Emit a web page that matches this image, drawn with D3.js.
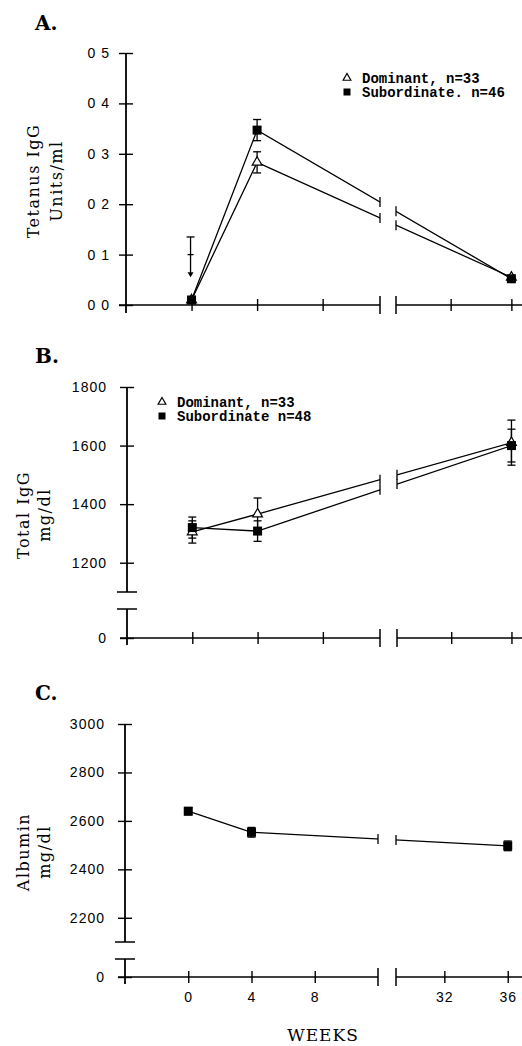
<!DOCTYPE html>
<html>
<head>
<meta charset="utf-8">
<script src="https://cdn.jsdelivr.net/npm/d3@7"></script>
<style>
body{margin:0;background:#fff}
.tick text{font-family:"Liberation Sans",Arial,sans-serif;font-size:14px;letter-spacing:1px}
.ttl{font-family:"DejaVu Serif",serif;font-size:16px;letter-spacing:1.5px}
.lab{font-family:"DejaVu Serif",serif;font-weight:bold;font-size:20px}
.leg{font-family:"Liberation Mono",monospace;font-weight:bold;font-size:14px}
.wk{font-family:"DejaVu Serif",serif;font-size:17px;letter-spacing:1px}
</style>
</head>
<body>
<svg id="fig" width="522" height="1046"></svg>
<script>
// sampling weeks
const weeks = [0, 4, 36];
const weekTicks = [0, 4, 8, 32, 36];

// A. tetanus IgG, units/ml
const tetDom = [0.01, 0.283, 0.055];
const tetDomErr = [0, 0.021, 0.004];
const tetSub = [0.01, 0.347, 0.052];
const tetSubErr = [0, 0.021, 0.005];
const tetTicks = [0, 0.1, 0.2, 0.3, 0.4, 0.5];
const tetNote = {week: 0, top: 0.135, mid: 0.1, tip: 0.055};
const legendA = ["Dominant, n=33", "Subordinate. n=46"];

// B. total IgG, mg/dl
const igDom = [1305, 1366, 1610];
const igDomErr = [38, 55, 77];
const igSub = [1320, 1308, 1600];
const igSubErr = [36, 35, 56];
const igTicks = [1200, 1400, 1600, 1800];
const legendB = ["Dominant, n=33", "Subordinate  n=48"];

// C. albumin, mg/dl
const alb = [2640, 2553, 2497];
const albErr = [15, 20, 20];
const albTicks = [2200, 2400, 2600, 2800, 3000];

const svg = d3.select("#fig");

function drawPanel(p, idx){
    let g = svg.append("g");

    let x = d3.scaleLinear().domain(p.xDomain).range(p.xRange);
    let y = d3.scaleLinear().domain(p.yDomain).range(p.yRange);
    let x0 = x(p.xDomain[0]);
    let breakL = x(p.xDomain[1]);
    let breakR = x(p.xDomain[2]);
    let xEnd = x(p.xDomain[3]);

    // zero line: either on the main scale or on a lower stub
    let yLow = p.low ? d3.scaleLinear().domain([0, 1]).range(p.low) : y;
    let zeroY = yLow(0);

    // panel letter
    g.append("text").attr("class", "lab")
        .attr("x", 35).attr("y", p.labelY)
        .text(p.label);

    // y axis title
    p.title.forEach(function(t, i){
        g.append("text").attr("class", "ttl")
            .attr("text-anchor", "middle")
            .attr("transform", `translate(${p.titleX[i]},${p.titleY}) rotate(-90)`)
            .text(t);
    });

    // y axis
    let yAx = g.append("g")
        .attr("transform", `translate(${x0},0)`)
        .call(d3.axisLeft(y).tickValues(p.yTicks).tickSize(7).tickPadding(p.pad).tickFormat(p.fmt));
    yAx.select(".domain").remove();
    yAx.selectAll(".tick line").attr("x1", 7).attr("stroke-width", 1.4);

    if (p.low) {
        let lowAx = g.append("g")
            .attr("transform", `translate(${x0},0)`)
            .call(d3.axisLeft(yLow).tickValues([0]).tickSize(7).tickPadding(p.pad).tickFormat(d3.format("d")));
        lowAx.select(".domain").remove();
        lowAx.selectAll(".tick line").attr("x1", 7).attr("stroke-width", 1.4);

        g.append("line").attr("x1", x0).attr("x2", x0)
            .attr("y1", p.yRange[1]).attr("y2", p.yRange[0])
            .attr("stroke", "#000").attr("stroke-width", 1.8);
        g.append("line").attr("x1", x0 - 10).attr("x2", x0 + 10)
            .attr("y1", p.yRange[0]).attr("y2", p.yRange[0])
            .attr("stroke", "#000").attr("stroke-width", 1.5);
        g.append("line").attr("x1", x0 - 10).attr("x2", x0 + 10)
            .attr("y1", p.low[1]).attr("y2", p.low[1])
            .attr("stroke", "#000").attr("stroke-width", 1.5);
        g.append("line").attr("x1", x0).attr("x2", x0)
            .attr("y1", p.low[1]).attr("y2", zeroY + 7)
            .attr("stroke", "#000").attr("stroke-width", 1.8);
    } else {
        g.append("line").attr("x1", x0).attr("x2", x0)
            .attr("y1", p.yRange[1]).attr("y2", zeroY + 8)
            .attr("stroke", "#000").attr("stroke-width", 1.8);
    }

    // x axis
    let xAx = g.append("g")
        .attr("transform", `translate(0,${zeroY})`)
        .call(d3.axisBottom(x).tickValues(weekTicks).tickSize(6).tickPadding(9)
            .tickFormat(p.showWeeks ? d3.format("d") : () => ""));
    xAx.select(".domain").remove();
    xAx.selectAll(".tick line").attr("y1", -6).attr("stroke-width", 1.4);

    g.append("line").attr("x1", x0 - 7).attr("x2", breakL)
        .attr("y1", zeroY).attr("y2", zeroY)
        .attr("stroke", "#000").attr("stroke-width", 1.5);
    g.append("line").attr("x1", breakR).attr("x2", xEnd)
        .attr("y1", zeroY).attr("y2", zeroY)
        .attr("stroke", "#000").attr("stroke-width", 1.5);
    [breakL, breakR].forEach(function(bx){
        g.append("line").attr("x1", bx).attr("x2", bx)
            .attr("y1", zeroY - 9).attr("y2", zeroY + 9)
            .attr("stroke", "#000").attr("stroke-width", 1.5);
    });

    if (p.showWeeks) {
        g.append("text").attr("class", "wk")
            .attr("x", 323).attr("y", 1041)
            .attr("text-anchor", "middle")
            .text("WEEKS");
    }

    // clip the data lines at the axis break
    let clipId = "gap" + idx;
    let clip = svg.append("clipPath").attr("id", clipId);
    clip.append("rect").attr("x", 0).attr("y", 0).attr("width", breakL).attr("height", 1046);
    clip.append("rect").attr("x", breakR).attr("y", 0).attr("width", 522 - breakR).attr("height", 1046);

    let line = d3.line()
        .x(function(d, i){ return x(weeks[i]); })
        .y(function(d){ return y(d); });

    p.series.forEach(function(s){
        g.append("path")
            .attr("d", line(s.vals))
            .attr("fill", "none")
            .attr("stroke", "#000")
            .attr("stroke-width", 1.3)
            .attr("clip-path", `url(#${clipId})`);

        // little marks where the line is cut
        let ax = x(weeks[1]), ay = y(s.vals[1]);
        let bx = x(weeks[2]), by = y(s.vals[2]);
        [breakL, breakR].forEach(function(cx){
            let cy = ay + (cx - ax) / (bx - ax) * (by - ay);
            g.append("line").attr("x1", cx).attr("x2", cx)
                .attr("y1", cy - 5).attr("y2", cy + 5)
                .attr("stroke", "#000").attr("stroke-width", 1.3);
        });
    });

    // error bars
    p.series.forEach(function(s){
        let eb = g.append("g").selectAll("g")
            .data(s.vals.map(function(v, i){ return {w: weeks[i], v: v, e: s.err[i]}; }).filter(d => d.e > 0))
            .enter().append("g")
            .attr("stroke", "#000").attr("stroke-width", 1.3);
        eb.append("line")
            .attr("x1", d => x(d.w)).attr("x2", d => x(d.w))
            .attr("y1", d => y(d.v - d.e)).attr("y2", d => y(d.v + d.e));
        eb.append("line")
            .attr("x1", d => x(d.w) - 4).attr("x2", d => x(d.w) + 4)
            .attr("y1", d => y(d.v + d.e)).attr("y2", d => y(d.v + d.e));
        eb.append("line")
            .attr("x1", d => x(d.w) - 4).attr("x2", d => x(d.w) + 4)
            .attr("y1", d => y(d.v - d.e)).attr("y2", d => y(d.v - d.e));
    });

    // markers: triangles first, squares on top
    p.series.slice().sort((a, b) => a.marker === "tri" ? -1 : 1).forEach(function(s){
        let pts = g.append("g").selectAll("path")
            .data(s.vals.map(function(v, i){ return {w: weeks[i], v: v}; }))
            .enter();
        if (s.marker === "tri") {
            pts.append("path")
                .attr("d", d3.symbol(d3.symbolTriangle, 42))
                .attr("transform", d => `translate(${x(d.w)},${y(d.v)})`)
                .attr("fill", "#fff").attr("stroke", "#000").attr("stroke-width", 1.2);
        } else {
            pts.append("rect")
                .attr("x", d => x(d.w) - 4.5).attr("y", d => y(d.v) - 4.5)
                .attr("width", 9).attr("height", 9)
                .attr("fill", "#000");
        }
    });

    // legend
    if (p.legend) {
        p.legend.names.forEach(function(name, i){
            let ly = p.legend.y + i * 14;
            if (i === 0) {
                g.append("path")
                    .attr("d", d3.symbol(d3.symbolTriangle, 26))
                    .attr("transform", `translate(${p.legend.x},${ly})`)
                    .attr("fill", "#fff").attr("stroke", "#000").attr("stroke-width", 1.2);
            } else {
                g.append("rect")
                    .attr("x", p.legend.x - 3.5).attr("y", ly - 3.5)
                    .attr("width", 7).attr("height", 7).attr("fill", "#000");
            }
            g.append("text").attr("class", "leg")
                .attr("x", p.legend.x + 15).attr("y", ly + 4.5)
                .text(name);
        });
    }

    // arrow note in panel A
    if (p.note) {
        let nx = x(p.note.week) - 1;
        let ng = g.append("g").attr("stroke", "#000").attr("stroke-width", 1.3);
        ng.append("line").attr("x1", nx).attr("x2", nx)
            .attr("y1", y(p.note.top)).attr("y2", y(p.note.tip) - 3);
        ng.append("line").attr("x1", nx - 4).attr("x2", nx + 4)
            .attr("y1", y(p.note.top)).attr("y2", y(p.note.top));
        ng.append("line").attr("x1", nx - 3).attr("x2", nx + 3)
            .attr("y1", y(p.note.mid)).attr("y2", y(p.note.mid));
        g.append("path")
            .attr("d", `M${nx - 3},${y(p.note.tip) - 5}L${nx + 3},${y(p.note.tip) - 5}L${nx},${y(p.note.tip)}Z`)
            .attr("fill", "#000");
    }
}

const panels = [
    {
        label: "A.", labelY: 30,
        xDomain: [-4, 11.5, 28.4, 36.7], xRange: [126, 380, 396, 522],
        yDomain: [0, 0.5], yRange: [305, 53],
        yTicks: tetTicks, pad: 9,
        fmt: d => d3.format(".1f")(d).replace(".", " "),
        title: ["Tetanus IgG", "Units/ml"], titleX: [39, 62], titleY: 181,
        series: [
            {vals: tetDom, err: tetDomErr, marker: "tri"},
            {vals: tetSub, err: tetSubErr, marker: "sq"}
        ],
        legend: {x: 347, y: 78, names: legendA},
        note: tetNote
    },
    {
        label: "B.", labelY: 363,
        xDomain: [-4, 11.5, 28.4, 36.7], xRange: [127, 380, 397, 522],
        yDomain: [1100, 1800], yRange: [592, 387], low: [638, 609],
        yTicks: igTicks, pad: 13,
        fmt: d3.format("d"),
        title: ["Total IgG", "mg/dl"], titleX: [29, 50], titleY: 515,
        series: [
            {vals: igDom, err: igDomErr, marker: "tri"},
            {vals: igSub, err: igSubErr, marker: "sq"}
        ],
        legend: {x: 162, y: 402, names: legendB}
    },
    {
        label: "C.", labelY: 700,
        xDomain: [-4, 12, 28.95, 36.9], xRange: [125, 378, 396, 522],
        yDomain: [2100, 3000], yRange: [942, 724], low: [977, 959],
        yTicks: albTicks, pad: 13,
        fmt: d3.format("d"),
        title: ["Albumin", "mg/dl"], titleX: [29, 50], titleY: 852,
        series: [
            {vals: alb, err: albErr, marker: "sq"}
        ],
        showWeeks: true
    }
];

panels.forEach(drawPanel);
</script>
</body>
</html>
